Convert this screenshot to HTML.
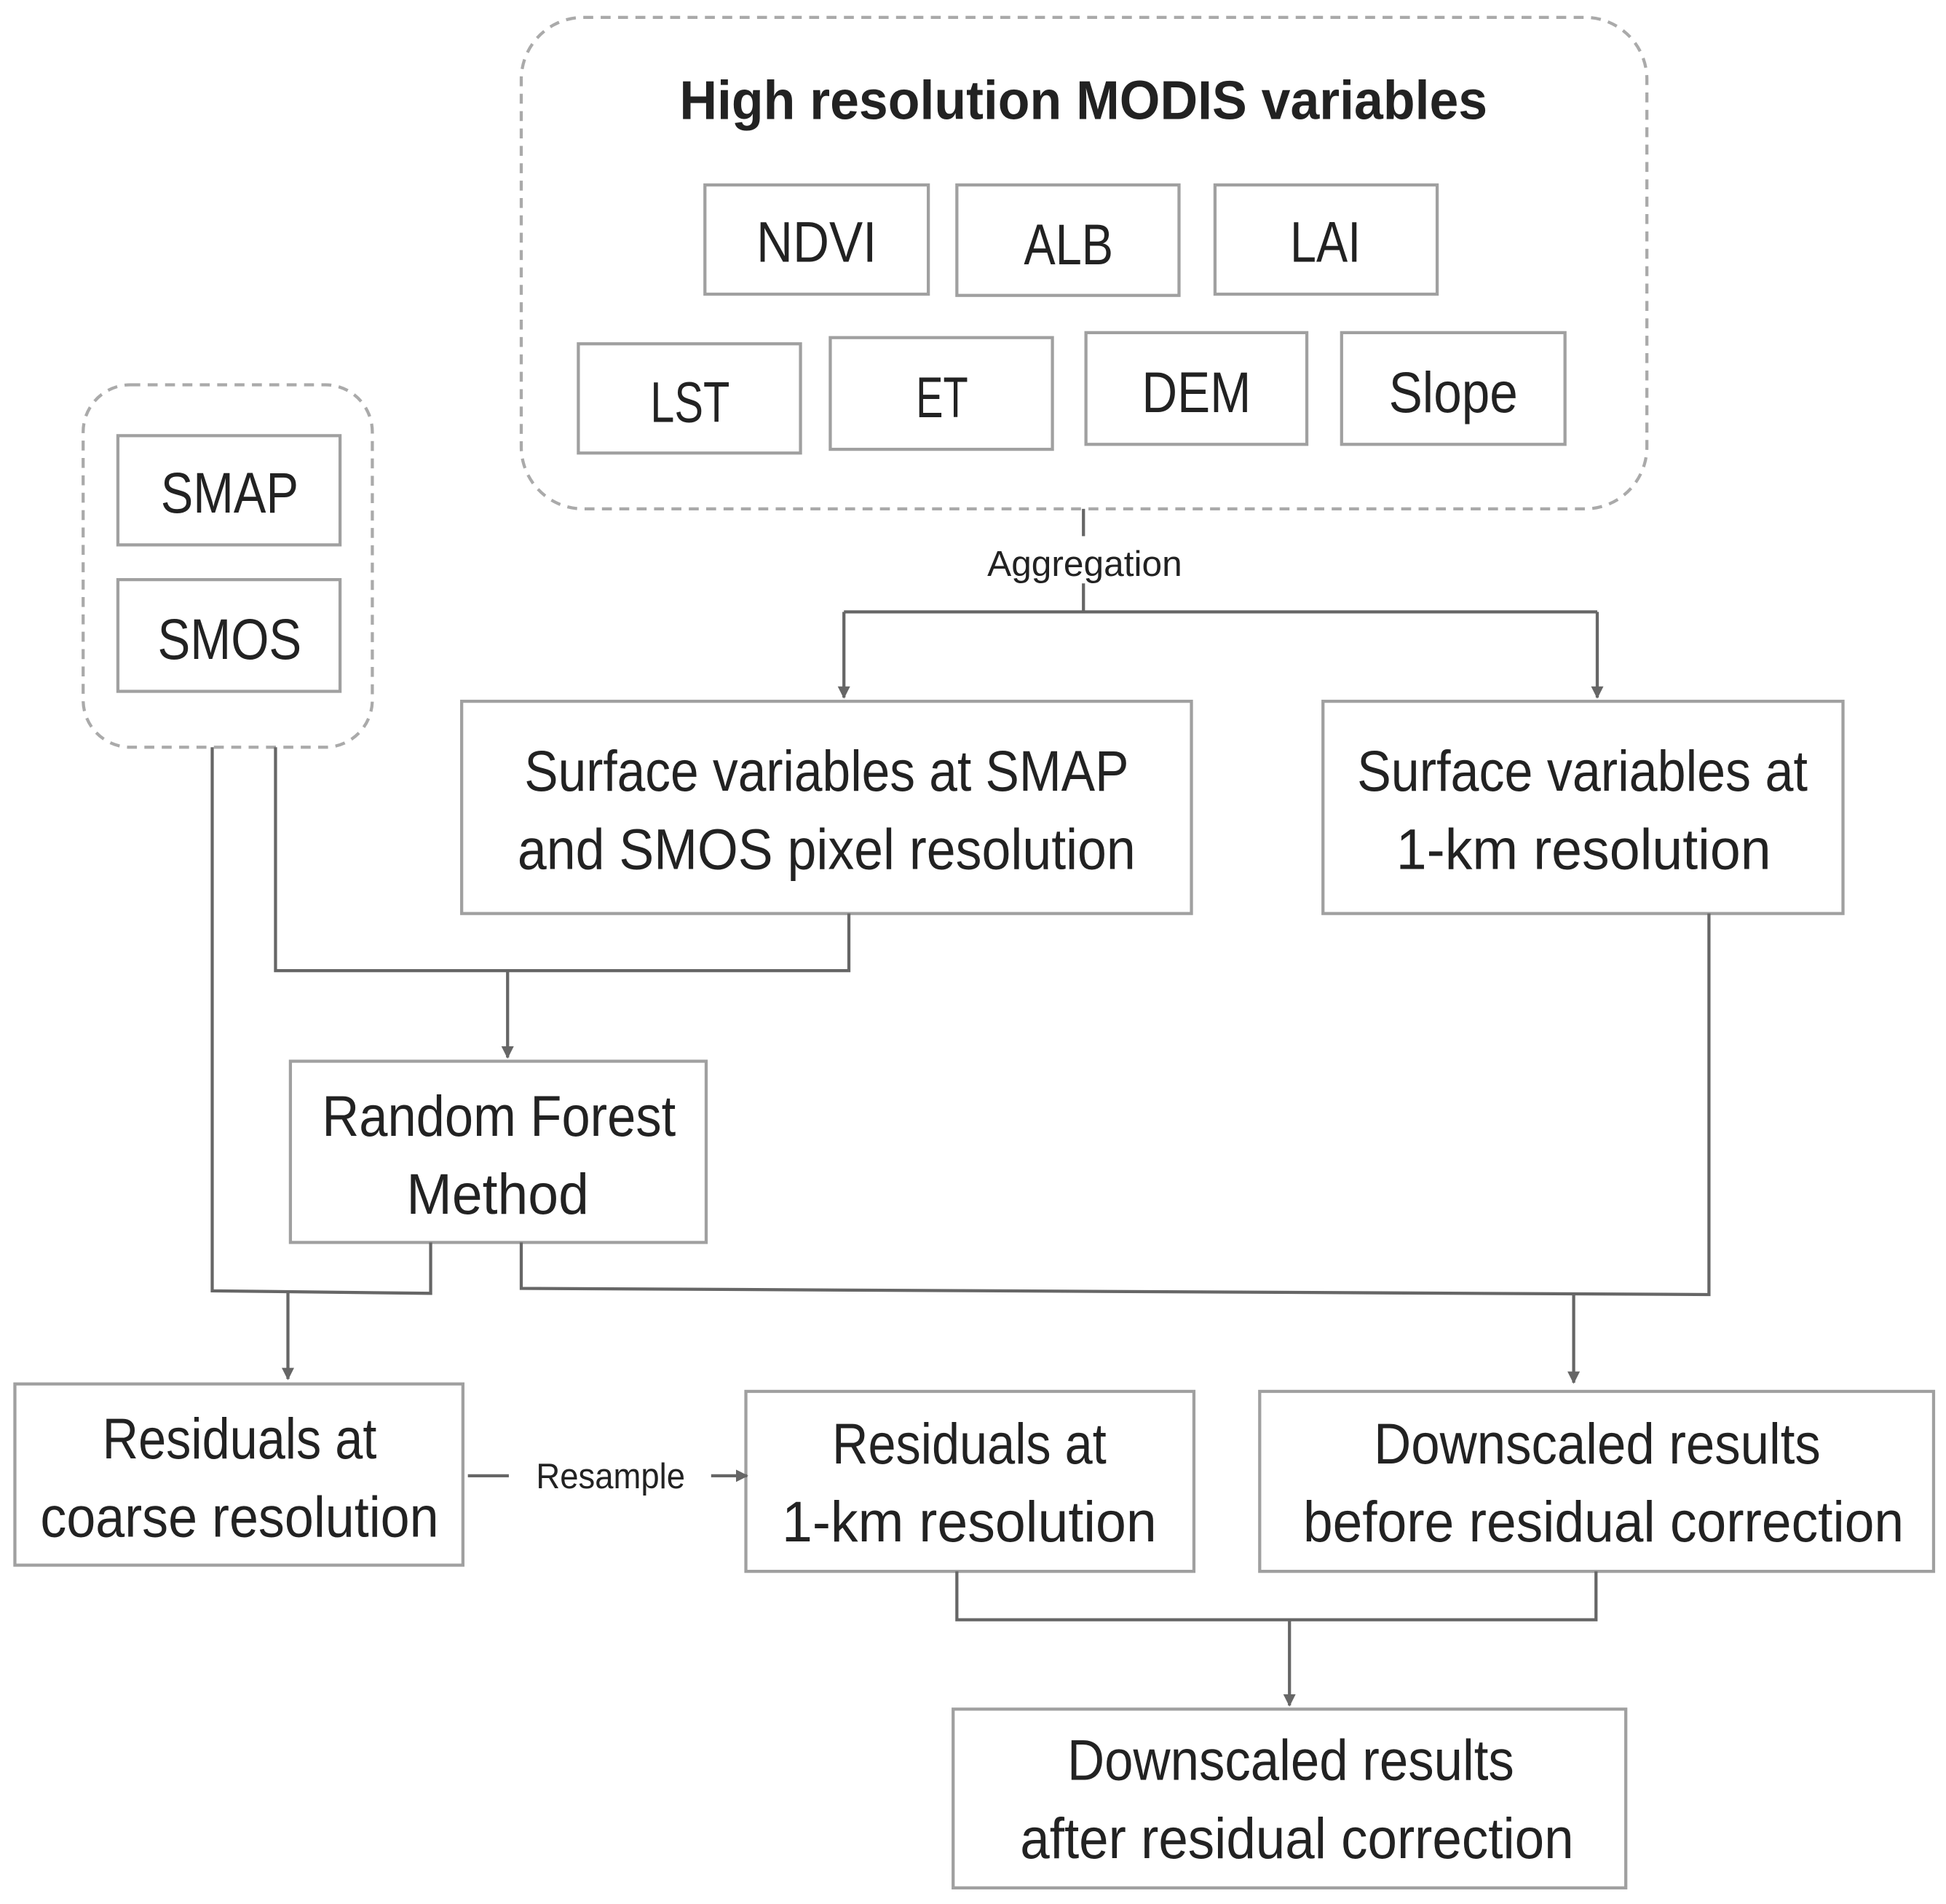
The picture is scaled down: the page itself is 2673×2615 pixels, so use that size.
<!DOCTYPE html>
<html><head><meta charset="utf-8"><style>
html,body{margin:0;padding:0;background:#fff;}
svg{display:block;}
text{font-family:"Liberation Sans",sans-serif;fill:#222;}
</style></head><body>
<svg width="2673" height="2615" viewBox="0 0 1568 1534" preserveAspectRatio="none" xmlns="http://www.w3.org/2000/svg">
<defs><marker id="a" markerWidth="10" markerHeight="10" refX="9" refY="5" orient="auto" markerUnits="userSpaceOnUse"><path d="M0,0 L10,5 L0,10 z" fill="#666"/></marker></defs>
<g fill="none" stroke="#aaa" stroke-width="2.5" stroke-dasharray="8,6">
<rect x="420" y="14" width="907" height="396" rx="50"/>
<rect x="67" y="310" width="233" height="292" rx="38"/>
</g>
<g fill="#fff" stroke="#a0a0a0" stroke-width="2.5">
<rect x="568" y="149" width="180" height="88"/>
<rect x="771" y="149" width="179" height="89"/>
<rect x="979" y="149" width="179" height="88"/>
<rect x="466" y="277" width="179" height="88"/>
<rect x="669" y="272" width="179" height="90"/>
<rect x="875" y="268" width="178" height="90"/>
<rect x="1081" y="268" width="180" height="90"/>
<rect x="95" y="351" width="179" height="88"/>
<rect x="95" y="467" width="179" height="90"/>
<rect x="372" y="565" width="588" height="171"/>
<rect x="1066" y="565" width="419" height="171"/>
<rect x="234" y="855" width="335" height="146"/>
<rect x="12" y="1115" width="361" height="146"/>
<rect x="601" y="1121" width="361" height="145"/>
<rect x="1015" y="1121" width="543" height="145"/>
<rect x="768" y="1377" width="542" height="144"/>
</g>
<g fill="none" stroke="#666" stroke-width="2.5">
<path d="M873,410 V432 M873,470 V493"/>
<path d="M680,493 H1287"/>
<path d="M680,493 V562" marker-end="url(#a)"/>
<path d="M1287,493 V562" marker-end="url(#a)"/>
<path d="M222,602 V782 H684 V736"/>
<path d="M409,782 V852" marker-end="url(#a)"/>
<path d="M171,602 V1040 L347,1042 V1001"/>
<path d="M232,1041 V1111" marker-end="url(#a)"/>
<path d="M420,1001 V1038 L1377,1043 V736"/>
<path d="M1268,1043 V1114" marker-end="url(#a)"/>
<path d="M377,1189 H410"/>
<path d="M573,1189 H602" marker-end="url(#a)"/>
<path d="M771,1266 V1305 H1286 V1266"/>
<path d="M1039,1305 V1374" marker-end="url(#a)"/>
</g>
<g font-size="46" text-anchor="middle" lengthAdjust="spacingAndGlyphs">
<text x="873" y="96" font-weight="bold" font-size="44" textLength="651" lengthAdjust="spacingAndGlyphs">High resolution MODIS variables</text>
<text x="658" y="211" textLength="97" lengthAdjust="spacingAndGlyphs">NDVI</text>
<text x="861" y="213" textLength="72" lengthAdjust="spacingAndGlyphs">ALB</text>
<text x="1068" y="211" textLength="57" lengthAdjust="spacingAndGlyphs">LAI</text>
<text x="556" y="340" textLength="64" lengthAdjust="spacingAndGlyphs">LST</text>
<text x="759" y="336" textLength="42" lengthAdjust="spacingAndGlyphs">ET</text>
<text x="964" y="332" textLength="88" lengthAdjust="spacingAndGlyphs">DEM</text>
<text x="1171" y="332" textLength="104" lengthAdjust="spacingAndGlyphs">Slope</text>
<text x="185" y="413" textLength="111" lengthAdjust="spacingAndGlyphs">SMAP</text>
<text x="185" y="531" textLength="116" lengthAdjust="spacingAndGlyphs">SMOS</text>
<text x="666" y="637" textLength="487" lengthAdjust="spacingAndGlyphs">Surface variables at SMAP</text>
<text x="666" y="700" textLength="498" lengthAdjust="spacingAndGlyphs">and SMOS pixel resolution</text>
<text x="1275" y="637" textLength="363" lengthAdjust="spacingAndGlyphs">Surface variables at</text>
<text x="1276" y="700" textLength="302" lengthAdjust="spacingAndGlyphs">1-km resolution</text>
<text x="402" y="915" textLength="285" lengthAdjust="spacingAndGlyphs">Random Forest</text>
<text x="401" y="978" textLength="147" lengthAdjust="spacingAndGlyphs">Method</text>
<text x="193" y="1175" textLength="221" lengthAdjust="spacingAndGlyphs">Residuals at</text>
<text x="193" y="1238" textLength="321" lengthAdjust="spacingAndGlyphs">coarse resolution</text>
<text x="781" y="1179" textLength="221" lengthAdjust="spacingAndGlyphs">Residuals at</text>
<text x="781" y="1242" textLength="302" lengthAdjust="spacingAndGlyphs">1-km resolution</text>
<text x="1287" y="1179" textLength="360" lengthAdjust="spacingAndGlyphs">Downscaled results</text>
<text x="1292" y="1242" textLength="484" lengthAdjust="spacingAndGlyphs">before residual correction</text>
<text x="1040" y="1434" textLength="360" lengthAdjust="spacingAndGlyphs">Downscaled results</text>
<text x="1045" y="1497" textLength="446" lengthAdjust="spacingAndGlyphs">after residual correction</text>
<text x="874" y="464" font-size="29" textLength="157" lengthAdjust="spacingAndGlyphs">Aggregation</text>
<text x="492" y="1199" font-size="29" textLength="120" lengthAdjust="spacingAndGlyphs">Resample</text>
</g>
</svg>
</body></html>
